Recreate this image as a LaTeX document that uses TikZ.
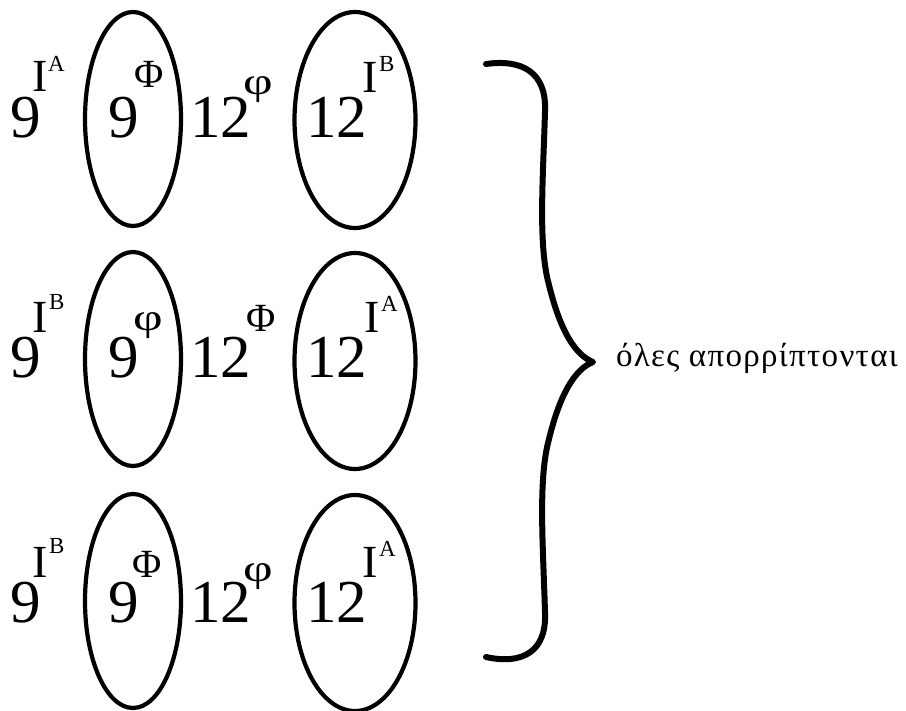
\documentclass[tikz,border=0pt]{standalone}
\usepackage{fontspec}
\setmainfont{Liberation Serif}
\newfontfamily\lblfont[LetterSpace=4]{Liberation Serif}
\usetikzlibrary{shapes.geometric}
\newcommand{\fsz}[1]{\fontsize{#1}{#1}\selectfont}
\begin{document}
\begin{tikzpicture}[x=1pt,y=-1pt,
  txt/.style={inner sep=0pt, outer sep=0pt, anchor=base west},
  big/.style={txt, font=\fsz{61pt}},
  capI/.style={txt, font=\fsz{46pt}},
  supL/.style={txt, font=\fsz{23pt}},
  phiU/.style={txt, font=\fsz{40pt}},
  phiL/.style={txt, font=\fsz{38pt}, xscale=1.35},
  oval/.style={draw, line width=4.2pt, ellipse, inner sep=0pt},
  smalloval/.style={oval, minimum width=96pt, minimum height=214pt},
  wideoval/.style={oval, minimum width=121pt, minimum height=216pt},
  brace/.style={line width=6pt, line cap=round, line join=round}
]
\useasboundingbox (0,0) rectangle (906,711);
\fill[white] (0,0) rectangle (906,711);

% ---------- row 1 ----------
\node[smalloval] (o11) at (133,119) {};
\node[wideoval]  (o12) at (355,120) {};
\node[big]  (a1) at (10,138) {9};
\node[capI] (a1i) at (32,92) {I};
\node[supL] (a1s) at (48,72) {A};
\node[big]  (b1) at (108,138) {9};
\node[phiU] (b1s) at (134,88) {Φ};
\node[big]  (c1) at (190,138) {12};
\node[phiL] (c1s) at (243,95) {φ};
\node[big]  (d1) at (306,138) {12};
\node[capI] (d1i) at (362,93) {I};
\node[supL] (d1s) at (379,72) {B};

% ---------- row 2 ----------
\node[smalloval] (o21) at (133,359) {};
\node[wideoval]  (o22) at (355,361) {};
\node[big]  (a2) at (10,378) {9};
\node[capI] (a2i) at (32,333) {I};
\node[supL] (a2s) at (49,310) {B};
\node[big]  (b2) at (108,378) {9};
\node[phiL] (b2s) at (133,331) {φ};
\node[big]  (c2) at (190,378) {12};
\node[phiU] (c2s) at (246,332) {Φ};
\node[big]  (d2) at (306,378) {12};
\node[capI] (d2i) at (364,333) {I};
\node[supL] (d2s) at (381,312) {A};

% ---------- row 3 ----------
\node[smalloval] (o31) at (133,601) {};
\node[wideoval]  (o32) at (355,603) {};
\node[big]  (a3) at (10,622) {9};
\node[capI] (a3i) at (32,577) {I};
\node[supL] (a3s) at (49,553) {B};
\node[big]  (b3) at (108,622) {9};
\node[phiU] (b3s) at (132,577) {Φ};
\node[big]  (c3) at (190,622) {12};
\node[phiL] (c3s) at (243,581) {φ};
\node[big]  (d3) at (306,622) {12};
\node[capI] (d3i) at (362,577) {I};
\node[supL] (d3s) at (379,557) {A};

% ---------- brace ----------
\coordinate (bt) at (486,64);
\coordinate (tip) at (593,362);
\coordinate (bb) at (486,657);
\draw[brace] (bt) .. controls (522,59) and (547,72) .. (545,112)
  .. controls (543,180) and (538,245) .. (549,285)
  .. controls (560,330) and (575,355) .. (tip)
  .. controls (575,369) and (560,394) .. (549,439)
  .. controls (538,479) and (543,544) .. (545,612)
  .. controls (547,652) and (522,665) .. (bb);

\node[txt, font=\lblfont\fsz{33pt}] (lbl) at (616,367) {όλες απορρίπτονται};
\end{tikzpicture}
\end{document}
